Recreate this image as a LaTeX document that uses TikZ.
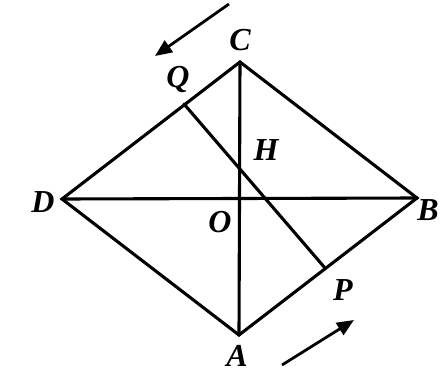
\documentclass[tikz,border=0pt]{standalone}
\usepackage{fontspec}
\setmainfont{Liberation Serif}
\usetikzlibrary{arrows.meta}
\begin{document}
\begin{tikzpicture}[x=1pt,y=-1pt,
  edge/.style={line width=3.1pt,line cap=round,line join=miter},
  lbl/.style={font=\fontsize{32}{32}\selectfont\itshape\bfseries,inner sep=0pt},
  mover/.style={line width=2.8pt,-{Triangle[length=17pt,width=14pt]}}]
\clip (0,0) rectangle (440,375);
\fill[white] (0,0) rectangle (440,375);
\coordinate (C) at (240,62);
\coordinate (D) at (62,199);
\coordinate (B) at (417,198);
\coordinate (A) at (239,335);
\coordinate (O) at (240,198);
\coordinate (Q) at (184,104);
\coordinate (P) at (325,268);
\coordinate (a1) at (229,4);
\coordinate (a2) at (155,56);
\coordinate (b1) at (282,365);
\coordinate (b2) at (354,320);
\draw[edge] (C) -- (B) -- (A) -- (D) -- cycle;
\draw[edge] (C) -- (A);
\draw[edge] (D) -- (B);
\draw[edge] (Q) -- (P);
\draw[mover] (a1) -- (a2);
\draw[mover] (b1) -- (b2);
\node[lbl] (lC) at (240,40) {C};
\node[lbl] (lQ) at (178,79) {Q};
\node[lbl] (lH) at (266,150) {H};
\node[lbl] (lO) at (220,222) {O};
\node[lbl] (lP) at (343,290) {P};
\node[lbl] (lD) at (43,202) {D};
\node[lbl] (lB) at (428,210) {B};
\node[lbl] (lA) at (237,356) {A};
\end{tikzpicture}
\end{document}
